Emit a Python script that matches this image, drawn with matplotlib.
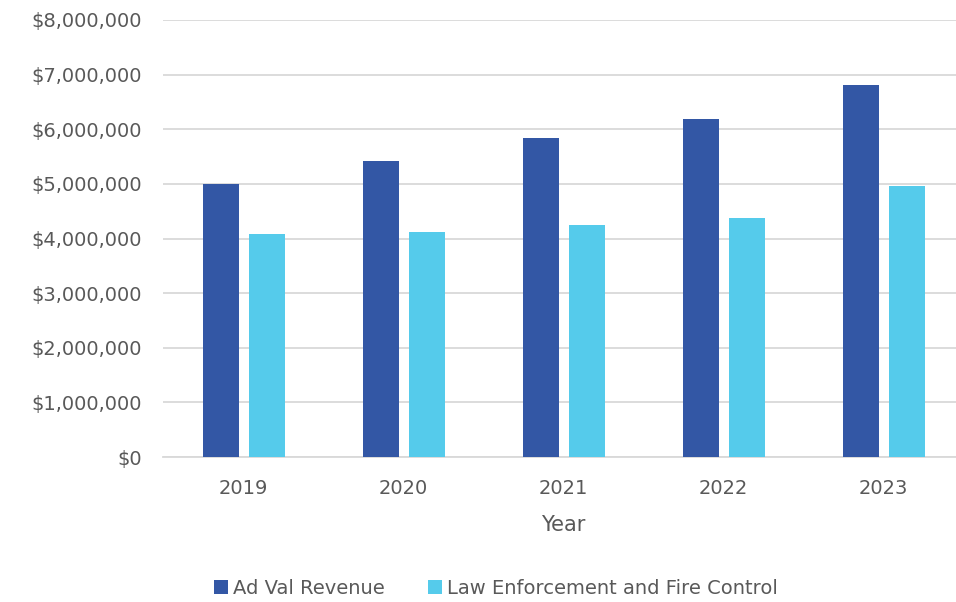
import matplotlib
matplotlib.use("Agg")
import matplotlib.pyplot as plt
import numpy as np
from matplotlib.ticker import FuncFormatter

years = ["2019", "2020", "2021", "2022", "2023"]
ad_val = [5000000, 5420000, 5840000, 6190000, 6810000]
law_fire = [4080000, 4110000, 4250000, 4370000, 4970000]
series_names = ["Ad Val Revenue", "Law Enforcement and Fire Control"]

plt.rcParams['font.family'] = ['DejaVu Sans']
txt = '#595959'

fig = plt.figure(figsize=(9.56, 6.02), dpi=100)
ax = fig.add_axes([163/956, 1-457/602, 800/956, (457-20)/602])

x = np.arange(len(years))
w = 0.225
off = 0.144
ax.bar(x - off + 0.004, ad_val, w, color='#3357A5', label=series_names[0], zorder=3)
ax.bar(x + off + 0.004, law_fire, w, color='#55CBEB', label=series_names[1], zorder=3)

ax.set_xlim(-0.5, 4.5)
ax.set_ylim(0, 8000000)
ax.set_yticks(np.arange(0, 8000001, 1000000))
ax.yaxis.set_major_formatter(FuncFormatter(lambda v, p: f"${v:,.0f}"))
ax.set_xticks(x)
ax.set_xticklabels(years)
ax.grid(axis='y', color='#D9D9D9', linewidth=1.3, zorder=0)
for s in ['top', 'right', 'left']:
    ax.spines[s].set_visible(False)
ax.spines['bottom'].set_color('#D9D9D9')
ax.spines['bottom'].set_linewidth(1.3)
ax.tick_params(axis='both', length=0, labelsize=14, labelcolor=txt)
ax.tick_params(axis='y', pad=15)
ax.tick_params(axis='x', pad=16)
ax.set_xlabel("Year", fontsize=15, color=txt, labelpad=12)

fig.legend(loc='lower center', bbox_to_anchor=(0.519, -0.022), ncol=2, frameon=False,
           fontsize=14, labelcolor=txt, handlelength=0.7, handleheight=0.7,
           handletextpad=0.3, columnspacing=2.2)

fig.savefig("out.png", dpi=100)
